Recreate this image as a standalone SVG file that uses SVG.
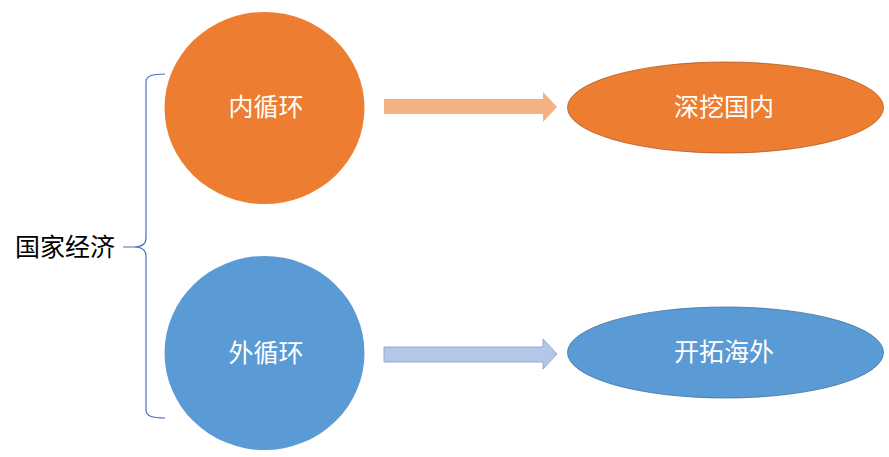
<svg xmlns="http://www.w3.org/2000/svg" width="889" height="457" viewBox="0 0 889 457">
<style>
text{font-family:"Liberation Sans","Noto Sans CJK SC",sans-serif;text-anchor:middle;dominant-baseline:central}
.w{fill:#fff;font-size:25px}
.o{fill:#ED7D31}
.b{fill:#5B9BD5}
</style>
<rect width="889" height="457" fill="#fff"/>
<g id="brace">
<path d="M165,74 C152,74 146,76 146,82 L146,238 C146,244 142,247 134,247 L123,247 M134,247 C142,247 146,250 146,256 L146,410 C146,416 152,418 165,418" fill="none" stroke="#4472C4" stroke-width="1.2"/>
</g>
<g id="root"><text x="65" y="247" style="font-size:25px;fill:#000">国家经济</text></g>
<g id="inner"><ellipse class="o" cx="264.5" cy="108" rx="100" ry="96"/><text class="w" x="266" y="107">内循环</text></g>
<g id="outer"><ellipse class="b" cx="264.5" cy="353" rx="100" ry="97"/><text class="w" x="266" y="353">外循环</text></g>
<g id="deep"><ellipse class="o" cx="725.5" cy="107.5" rx="158" ry="45.5" stroke="#AE5A21" stroke-width="0.8"/><text class="w" x="724" y="107">深挖国内</text></g>
<g id="expand"><ellipse class="b" cx="725.5" cy="352.5" rx="158" ry="45.5" stroke="#41719C" stroke-width="0.8"/><text class="w" x="724" y="352">开拓海外</text></g>
<g id="connectors">
<path d="M384,99 L543,99 L543,92 L557,107 L543,122 L543,114 L384,114 Z" fill="#F4B183"/>
<path d="M384,347 L543,347 L543,339 L557,354 L543,369 L543,362 L384,362 Z" fill="#B4C7E7" stroke="#8FAADC" stroke-width="1"/>
</g>
</svg>
